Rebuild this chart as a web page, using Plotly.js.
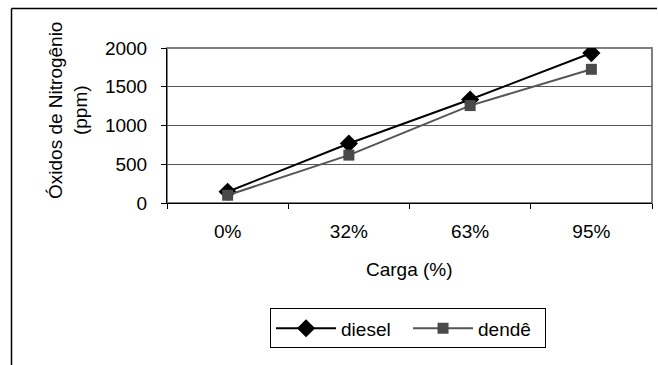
<!DOCTYPE html>
<html>
<head>
<meta charset="utf-8">
<script src="https://cdn.plot.ly/plotly-3.0.1.min.js"></script>
<style>html,body{margin:0;padding:0;background:#fff;}#chart{width:658px;height:365px;}</style>
</head>
<body>
<div id="chart"></div>
<script>
var categories = ['0%', '32%', '63%', '95%'];
var dieselValues = [145, 768, 1335, 1935];
var dendeValues = [100, 618, 1257, 1725];
var seriesNames = ['diesel', 'dendê'];
var yTitleText = 'Óxidos de Nitrogênio<br>(ppm)';
var xTitleText = 'Carga (%)';

var font = {family: 'Liberation Sans, Arial, sans-serif', size: 19, color: '#000'};

var traces = [
  {x: categories, y: dieselValues, name: seriesNames[0], type: 'scatter', mode: 'lines+markers',
   line: {color: '#000', width: 2}, marker: {symbol: 'diamond', size: 14, color: '#000'}},
  {x: categories, y: dendeValues, name: seriesNames[1], type: 'scatter', mode: 'lines+markers',
   line: {color: '#555', width: 2}, marker: {symbol: 'square', size: 11, color: '#4a4a4a'}}
];

var layout = {
  width: 658, height: 365,
  margin: {l: 167, r: 6, t: 48, b: 162},
  paper_bgcolor: '#fff', plot_bgcolor: '#fff',
  font: font,
  showlegend: true,
  legend: {orientation: 'h', x: 0.497, xanchor: 'center', y: -0.68, yanchor: 'top',
           bordercolor: '#000', borderwidth: 1, font: font, itemwidth: 60, entrywidth: 62},
  xaxis: {type: 'category', range: [-0.5, 3.5], showgrid: false, showline: true, linecolor: '#000', linewidth: 1,
          ticks: 'outside', tickson: 'boundaries', ticklen: 5, tickcolor: '#000', ticklabelstandoff: 11,
          tickfont: font, zeroline: false, fixedrange: true},
  yaxis: {range: [0, 2000], dtick: 500, showgrid: true, gridcolor: '#555', gridwidth: 1,
          showline: true, linecolor: '#000', linewidth: 1, ticks: 'outside', ticklen: 5, tickcolor: '#000',
          ticklabelstandoff: 10, tickfont: font, zeroline: false, fixedrange: true},
  annotations: [
    {text: yTitleText, xref: 'paper', yref: 'paper', x: -0.204, y: 0.594, xanchor: 'center', yanchor: 'middle',
     textangle: -90, showarrow: false, font: font},
    {text: xTitleText, xref: 'paper', yref: 'paper', x: 0.5, y: -0.432, xanchor: 'center', yanchor: 'middle',
     showarrow: false, font: font}
  ],
  shapes: [
    {type: 'rect', xref: 'paper', yref: 'paper', x0: 0, x1: 1, y0: 0, y1: 1, layer: 'below',
     line: {color: '#808080', width: 2}},
    {type: 'line', xref: 'paper', yref: 'paper', x0: -0.3206, x1: 1.0103, y0: 1.2548, y1: 1.2548,
     line: {color: '#000', width: 1.5}},
    {type: 'line', xref: 'paper', yref: 'paper', x0: -0.3206, x1: -0.3206, y0: 1.2548, y1: -1.06,
     line: {color: '#000', width: 1.5}}
  ]
};

Plotly.newPlot('chart', traces, layout, {displayModeBar: false, staticPlot: true});
</script>
</body>
</html>
